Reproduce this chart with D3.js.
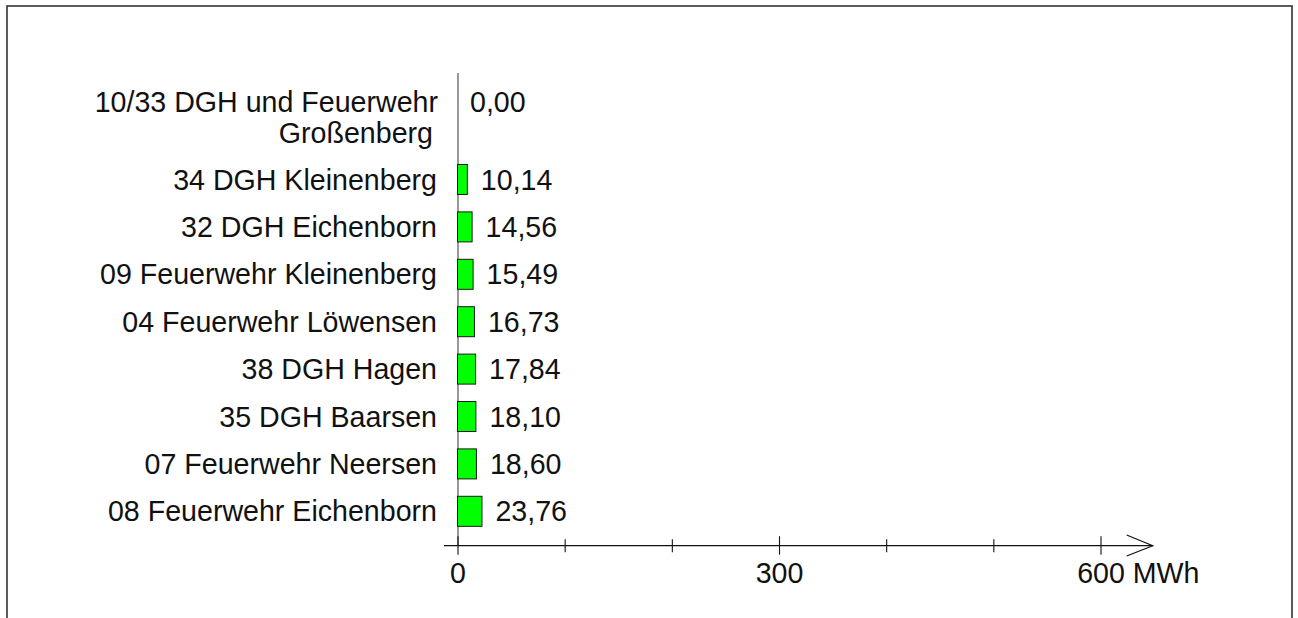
<!DOCTYPE html>
<html>
<head>
<meta charset="utf-8">
<script src="https://cdn.jsdelivr.net/npm/d3@7"></script>
<style>
  html, body { margin: 0; padding: 0; background: #fff; }
  svg { display: block; }
  text { font-family: "Liberation Sans", Arial, sans-serif; fill: #111; }
</style>
</head>
<body>
<svg id="chart" width="1298" height="618"></svg>
<script>
// ---- data ----
const categories = [
  ["10/33 DGH und Feuerwehr", "Großenberg"],
  ["34 DGH Kleinenberg"],
  ["32 DGH Eichenborn"],
  ["09 Feuerwehr Kleinenberg"],
  ["04 Feuerwehr Löwensen"],
  ["38 DGH Hagen"],
  ["35 DGH Baarsen"],
  ["07 Feuerwehr Neersen"],
  ["08 Feuerwehr Eichenborn"]
];
const values = [0.00, 10.14, 14.56, 15.49, 16.73, 17.84, 18.10, 18.60, 23.76];
const tickValues = [0, 100, 200, 300, 400, 500, 600];
const labeledTicks = [0, 300, 600];
const unit = "MWh";

// ---- layout ----
const svg = d3.select("#chart");
const fontSize = 28.6;
const keys = categories.map((c, i) => i);

const x = d3.scaleLinear().domain([0, 600]).range([458, 1101]);
const y = d3.scaleBand().domain(keys).range([108.4, 535]).paddingInner(0.367).paddingOuter(0.1835);

// frame
svg.append("rect")
  .attr("x", 7).attr("y", 6).attr("width", 1285).attr("height", 700)
  .attr("fill", "none").attr("stroke", "#333").attr("stroke-width", 1.6);

const axisY = 545.7;

// vertical axis line
svg.append("line")
  .attr("x1", x(0)).attr("x2", x(0))
  .attr("y1", 73).attr("y2", axisY)
  .attr("stroke", "#555").attr("stroke-width", 1.2);

// bars
svg.append("g").selectAll("rect")
  .data(values.map((v, i) => ({v, i})).filter(d => d.v > 0))
  .join("rect")
  .attr("x", d => x(0) - 0.5)
  .attr("y", d => y(d.i))
  .attr("width", d => x(d.v) - x(0) - 1)
  .attr("height", y.bandwidth())
  .attr("fill", "#00ff00")
  .attr("stroke", "#1a1a1a")
  .attr("stroke-width", 1);

// category labels
const catG = svg.append("g");
categories.forEach((lines, i) => {
  const cy = y(i) + y.bandwidth() / 2;
  if (lines.length === 1) {
    catG.append("text")
      .attr("x", 437).attr("y", cy + 10)
      .attr("text-anchor", "end").attr("font-size", fontSize)
      .text(lines[0]);
  } else {
    catG.append("text")
      .attr("x", 438).attr("y", cy - 20)
      .attr("text-anchor", "end").attr("font-size", fontSize)
      .text(lines[0]);
    catG.append("text")
      .attr("x", 433).attr("y", cy + 11)
      .attr("text-anchor", "end").attr("font-size", fontSize)
      .text(lines[1]);
  }
});

// value labels
const fmt = v => v.toFixed(2).replace(".", ",");
values.forEach((v, i) => {
  const cy = y(i) + y.bandwidth() / 2;
  const multi = categories[i].length > 1;
  svg.append("text")
    .attr("x", x(v) + (v > 0 ? 12 : 12))
    .attr("y", multi ? cy - 20 : cy + 10)
    .attr("font-size", fontSize)
    .text(fmt(v));
});

// x axis line with arrow
svg.append("line")
  .attr("x1", 444).attr("x2", 1152.7)
  .attr("y1", axisY).attr("y2", axisY)
  .attr("stroke", "#111").attr("stroke-width", 1.2);
svg.append("path")
  .attr("d", `M1126.7,535 L1152.7,${axisY} L1126.7,556`)
  .attr("fill", "none").attr("stroke", "#111").attr("stroke-width", 1.2);

// ticks
svg.append("g").selectAll("line")
  .data(tickValues)
  .join("line")
  .attr("x1", d => x(d)).attr("x2", d => x(d))
  .attr("y1", d => labeledTicks.includes(d) ? axisY - 9.5 : axisY - 6.5)
  .attr("y2", d => labeledTicks.includes(d) ? axisY + 9 : axisY + 6.5)
  .attr("stroke", "#111").attr("stroke-width", 1.1);

// tick labels
labeledTicks.forEach((t, k) => {
  const isLast = k === labeledTicks.length - 1;
  const txt = svg.append("text")
    .attr("y", 583.3)
    .attr("font-size", fontSize)
    .text(String(t));
  const w = txt.node().getComputedTextLength();
  txt.attr("x", x(t) - w / 2);
  if (isLast) {
    txt.append("tspan").text(" " + unit);
  }
});
</script>
</body>
</html>
